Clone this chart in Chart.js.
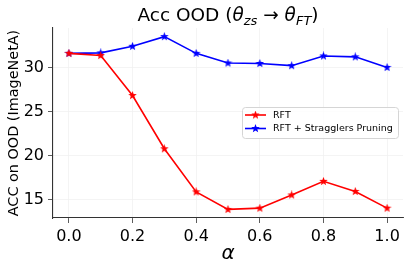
<!DOCTYPE html>
<html>
<head>
<meta charset="utf-8">
<script src="https://cdn.jsdelivr.net/npm/chart.js@4/dist/chart.umd.min.js"></script>
<style>
  html, body { margin: 0; padding: 0; background: #fff; }
  #wrap { width: 411px; height: 271px; }
</style>
</head>
<body>
<div id="wrap"><canvas id="grafico" width="411" height="271"></canvas></div>
<script>
// datos
var alphas = [0.0, 0.1, 0.2, 0.3, 0.4, 0.5, 0.6, 0.7, 0.8, 0.9, 1.0];
var rftAcc = [31.6, 31.35, 26.8, 20.75, 15.85, 13.86, 14.0, 15.5, 17.05, 15.9, 14.0];
var prunedAcc = [31.6, 31.65, 32.4, 33.5, 31.6, 30.5, 30.45, 30.2, 31.3, 31.2, 30.0];
var xTicks = [0.0, 0.2, 0.4, 0.6, 0.8, 1.0];
var yTicks = [15, 20, 25, 30];
var seriesNames = ['RFT', 'RFT + Stragglers Pruning'];
var seriesColors = ['#ff0000', '#0000ff'];

var fuente = 'DejaVu Sans';

// estrella rellena tipo matplotlib '*'
function hacerEstrella(color, size) {
    var c = document.createElement('canvas');
    c.width = size; c.height = size;
    var g = c.getContext('2d');
    var cx = size / 2, cy = size / 2, R = size / 2, r = R * 0.42;
    g.beginPath();
    for (var i = 0; i < 10; i++) {
        var ang = -Math.PI / 2 + i * Math.PI / 5;
        var rad = (i % 2 === 0) ? R : r;
        var px = cx + rad * Math.cos(ang), py = cy + rad * Math.sin(ang);
        if (i === 0) g.moveTo(px, py); else g.lineTo(px, py);
    }
    g.closePath();
    g.fillStyle = color;
    g.fill();
    return c;
}

var estrellas = seriesColors.map(function (c) { return hacerEstrella(c, 9); });

function puntos(ys) {
    return alphas.map(function (a, i) { return { x: a, y: ys[i] }; });
}

// titulo, etiquetas de ejes y leyenda dibujados a mano
var textosPlugin = {
    id: 'textos',
    afterDraw: function (chart) {
        var ctx = chart.ctx;
        var area = chart.chartArea;
        var cx = (area.left + area.right) / 2;
        ctx.save();
        ctx.fillStyle = '#000';
        ctx.textBaseline = 'alphabetic';

        // titulo con subindices
        var partes = [
            { t: 'Acc OOD (', f: '18.5px ' + fuente, dy: 0 },
            { t: '\u03b8', f: 'italic 18.5px ' + fuente, dy: 0 },
            { t: 'zs', f: 'italic 13px ' + fuente, dy: 4 },
            { t: ' \u2192 ', f: '18.5px ' + fuente, dy: 0 },
            { t: '\u03b8', f: 'italic 18.5px ' + fuente, dy: 0 },
            { t: 'FT', f: 'italic 13px ' + fuente, dy: 4 },
            { t: ')', f: '18.5px ' + fuente, dy: 0 }
        ];
        var total = 0;
        partes.forEach(function (p) { ctx.font = p.f; p.w = ctx.measureText(p.t).width; total += p.w; });
        var x = cx - total / 2;
        partes.forEach(function (p) {
            ctx.font = p.f;
            ctx.textAlign = 'left';
            ctx.fillText(p.t, x, 21 + p.dy);
            x += p.w;
        });

        // etiqueta eje x
        ctx.font = 'italic 20px ' + fuente;
        ctx.textAlign = 'center';
        ctx.fillText('\u03b1', cx, 259);

        // etiqueta eje y
        ctx.save();
        ctx.translate(18, (area.top + area.bottom) / 2);
        ctx.rotate(-Math.PI / 2);
        ctx.font = '14.4px ' + fuente;
        ctx.textAlign = 'center';
        ctx.fillText('ACC on OOD (ImageNetA)', 0, 0);
        ctx.restore();

        // leyenda
        var lx = 242, ly = 107, lw = 156, lh = 31;
        ctx.beginPath();
        ctx.roundRect(lx + 0.5, ly + 0.5, lw, lh, 3);
        ctx.fillStyle = 'rgba(255,255,255,0.8)';
        ctx.fill();
        ctx.strokeStyle = '#d5d5d5';
        ctx.lineWidth = 1;
        ctx.stroke();
        ctx.font = '9.5px ' + fuente;
        ctx.textAlign = 'left';
        ctx.textBaseline = 'middle';
        seriesNames.forEach(function (nombre, i) {
            var yy = 115 + i * 13.5;
            ctx.beginPath();
            ctx.moveTo(245, yy);
            ctx.lineTo(266, yy);
            ctx.strokeStyle = seriesColors[i];
            ctx.lineWidth = 1.6;
            ctx.stroke();
            ctx.drawImage(estrellas[i], 255.5 - 4.5, yy - 4.5);
            ctx.fillStyle = '#000';
            ctx.fillText(nombre, 273, yy + 0.5);
        });
        ctx.restore();
    }
};

var ctx = document.getElementById('grafico').getContext('2d');
var grafico = new Chart(ctx, {
    type: 'line',
    data: {
        datasets: [{
            label: seriesNames[0],
            data: puntos(rftAcc),
            borderColor: seriesColors[0],
            backgroundColor: seriesColors[0],
            borderWidth: 1.6,
            pointStyle: estrellas[0],
            tension: 0
        }, {
            label: seriesNames[1],
            data: puntos(prunedAcc),
            borderColor: seriesColors[1],
            backgroundColor: seriesColors[1],
            borderWidth: 1.6,
            pointStyle: estrellas[1],
            tension: 0
        }]
    },
    options: {
        responsive: false,
        animation: false,
        events: [],
        layout: { padding: { top: 28, right: 8, left: 0, bottom: 0 } },
        plugins: {
            legend: { display: false },
            title: { display: false },
            tooltip: { enabled: false }
        },
        scales: {
            x: {
                type: 'linear',
                min: -0.05,
                max: 1.05,
                afterBuildTicks: function (scale) {
                    scale.ticks = xTicks.map(function (v) { return { value: v }; });
                },
                afterFit: function (scale) { scale.height = 53; },
                ticks: {
                    font: { family: fuente, size: 16 },
                    color: '#000',
                    padding: 4,
                    maxRotation: 0,
                    callback: function (v) { return v.toFixed(1); }
                },
                grid: {
                    color: '#f1f1f1',
                    tickColor: '#333',
                    tickLength: 5,
                    lineWidth: 0.8
                },
                border: { display: true, color: '#333', width: 1.1 }
            },
            y: {
                type: 'linear',
                min: 12.88,
                max: 34.48,
                afterBuildTicks: function (scale) {
                    scale.ticks = yTicks.map(function (v) { return { value: v }; });
                },
                afterFit: function (scale) { scale.width = 53; },
                ticks: {
                    font: { family: fuente, size: 16 },
                    color: '#000',
                    padding: 4,
                    callback: function (v) { return String(v); }
                },
                grid: {
                    color: '#f1f1f1',
                    tickColor: '#333',
                    tickLength: 5,
                    lineWidth: 0.8
                },
                border: { display: true, color: '#333', width: 1.1 }
            }
        }
    },
    plugins: [textosPlugin]
});
</script>
</body>
</html>
